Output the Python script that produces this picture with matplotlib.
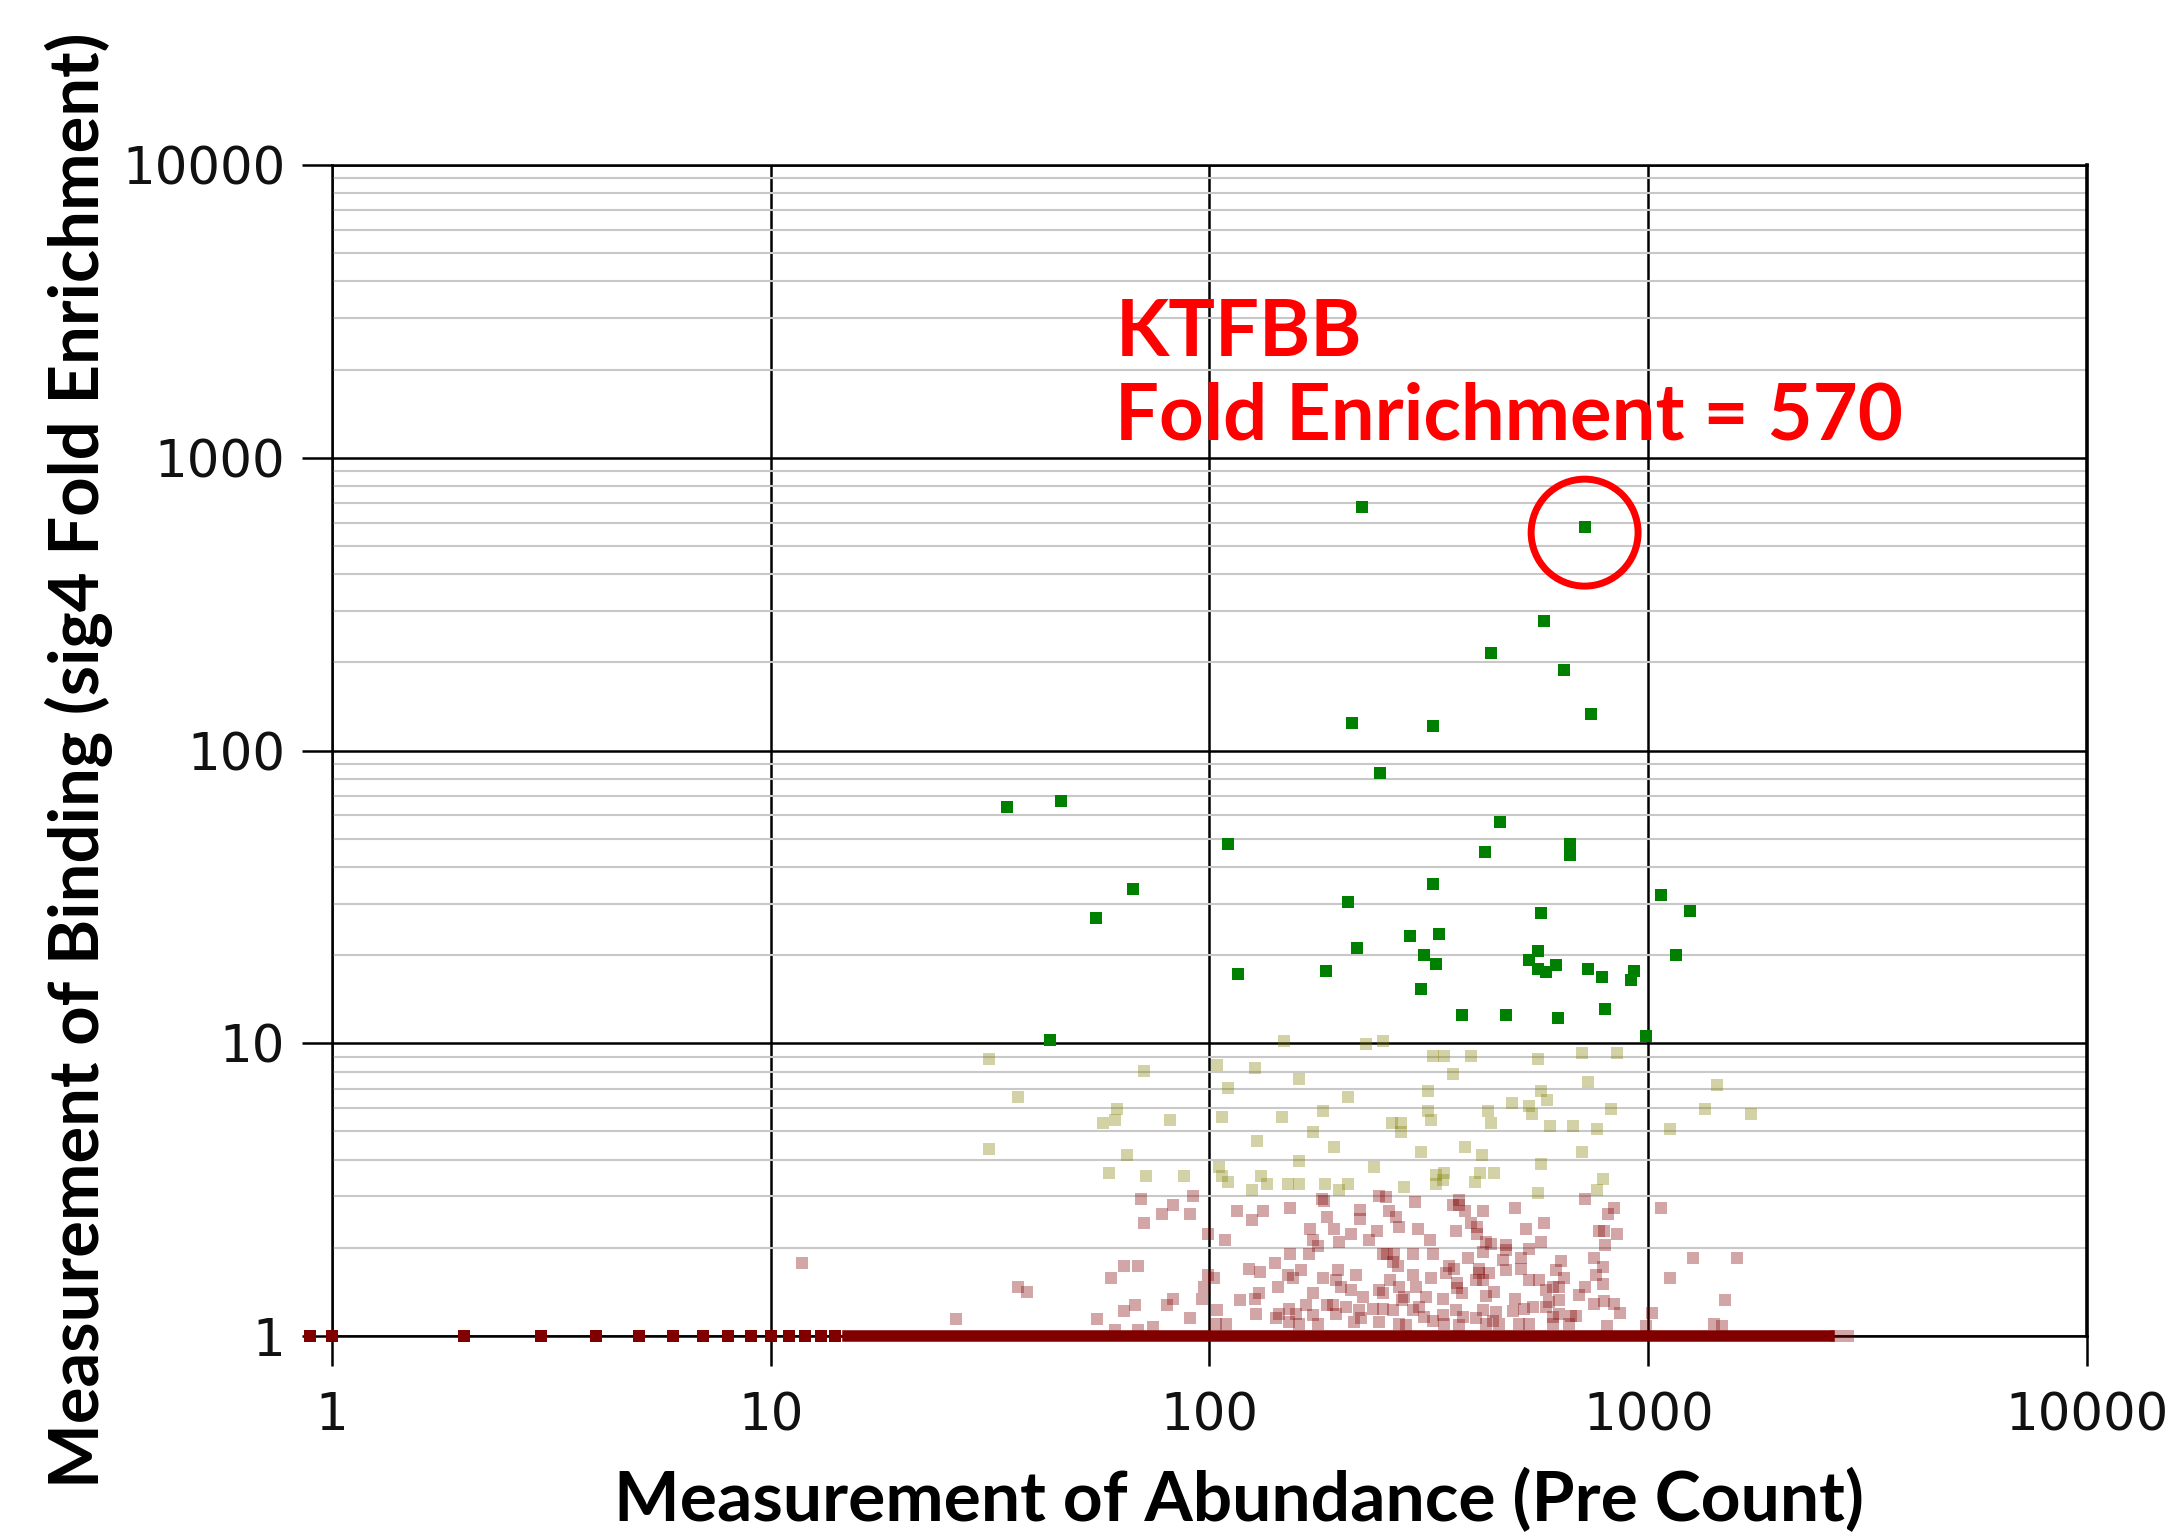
import numpy as np
import matplotlib
matplotlib.use('Agg')
import matplotlib.pyplot as plt
from matplotlib.ticker import FixedLocator, LogLocator, NullFormatter, NullLocator

# Binding (fold enrichment) vs abundance (pre count), one point per sequence.

# strong binders, fold enrichment > 10 (green)
green_x = [223, 718, 579, 439, 644, 741, 211, 324, 245, 34.5,
           46, 460, 110, 425, 664, 664, 67, 324, 55, 207,
           1071, 1248, 570, 286, 333, 217, 309, 329, 561, 535,
           561, 586, 617, 730, 786, 929, 915, 1158, 116, 184,
           304, 377, 475, 624, 798, 989, 43.4]
green_y = [680, 581, 278, 216, 188, 133, 124, 121, 84, 64,
           67, 57, 48, 45, 48, 44, 33.6, 35, 26.7, 30.5,
           32, 28.4, 27.8, 23.2, 23.7, 21.1, 20.1, 18.7, 20.6, 19.2,
           18.0, 17.5, 18.5, 18.0, 16.8, 17.6, 16.4, 20.1, 17.2, 17.6,
           15.3, 12.5, 12.5, 12.2, 13.1, 10.6, 10.3]

# medium, fold enrichment 3 - 10 (olive)
olive_x = [31.4, 70.8, 36.6, 61.7, 57.1, 60.8, 81.2, 31.4, 64.7, 58.9, 71.8, 87.7,
           147.6, 227, 249, 104, 127, 160, 110, 207, 314, 324,
           107, 146, 181, 314, 319, 261, 273, 273, 172, 128,
           192, 160, 304, 105, 107, 110, 131, 135, 151, 160,
           183, 207, 125, 197, 237, 277, 329, 329,
           343, 395, 561, 707, 850, 359, 730, 1435, 570, 589,
           490, 535, 544, 432, 439, 824, 1349, 1718, 598, 675,
           763, 1118, 383, 419, 707, 570, 343, 413, 446, 402,
           787, 764, 561, 340]
olive_y = [8.84, 8.07, 6.56, 5.98, 5.35, 5.47, 5.47, 4.34, 4.14, 3.61, 3.52, 3.52,
           10.2, 9.95, 10.2, 8.43, 8.26, 7.55, 7.03, 6.56, 6.87, 9.05,
           5.6, 5.6, 5.85, 5.85, 5.47, 5.35, 5.35, 4.98, 4.98, 4.64,
           4.44, 3.96, 4.24, 3.78, 3.52, 3.36, 3.52, 3.30, 3.30, 3.30,
           3.30, 3.30, 3.15, 3.15, 3.78, 3.22, 3.56, 3.30,
           9.05, 9.05, 8.84, 9.26, 9.26, 7.88, 7.38, 7.19, 6.87, 6.40,
           6.25, 6.12, 5.72, 5.85, 5.35, 5.98, 5.98, 5.72, 5.22, 5.22,
           5.10, 5.10, 4.44, 4.14, 4.24, 3.87, 3.61, 3.61, 3.61, 3.36,
           3.44, 3.15, 3.08, 3.40]

# weak, fold enrichment 1 - 3 (dark red, transparent)
red_x = [11.8, 26.5, 36.6, 38.3, 55.4, 59.8, 63.7, 68.7, 63.7, 67.6,
         60.8, 68.7, 74.2, 80.2, 82.6, 69.7, 77.8, 82.6, 70.8,
         91.9, 180.5, 182.5, 243.8, 252.5, 294.0, 90.5, 115.5, 124.9, 132.7,
         152.3, 185.7, 220.5, 220.5, 257.0, 266.0, 270.7, 192.4, 169.7, 210.5,
         240.8, 230.5, 298.7, 318.6, 99.1, 108.7, 172.0, 177.1, 197.6, 168.9,
         152.3, 141.1, 122.9, 130.6, 248.2, 254.3, 263.4, 261.5, 268.6, 290.4,
         322.5, 99.1, 102.2, 97.0, 150.7, 154.8, 161.3, 143.3, 181.0, 195.8,
         194.2, 199.8, 215.3, 210.5, 223.4, 243.3, 248.2, 257.6, 270.7, 290.4,
         295.5, 311.0, 320.5, 96.3, 117.2, 126.8, 129.9, 172.0, 185.0, 190.9,
         165.9, 152.1, 157.5, 144.3, 103.9, 127.7, 90.5, 171.8, 194.2, 204.7,
         219.5, 221.1, 235.4, 248.2, 243.8, 261.5, 274.1, 277.8, 290.4, 300.7,
         308.6, 322.5, 109.1, 103.5, 141.9, 152.1, 160.2, 176.4, 213.8, 270.7, 280.0,
         370.9, 359.6, 370.9, 382.9, 419.3, 495.7, 718.9, 836.5, 809.6, 1069,
         395.2, 406.4, 365.2, 527.1, 578.5, 773, 794.5, 848.3, 407.0, 426.7,
         438.0, 473.8, 473.8, 535.5, 569.7, 797.2, 388.9, 419.3, 467.4, 513.5,
         352, 361.5, 346, 412.2, 412.2, 434.2, 473.8, 512.6, 633.4, 616.2,
         751.2, 789.1, 759.9, 643.5, 786.5, 367.1, 367.1, 419.3, 405.0, 535.5,
         564.8, 584.6, 626.9, 605.4, 717.7, 696.7, 445.8, 426.7, 376.1, 340,
         495.7, 595.2, 626.9, 751.2, 794.5, 836.5, 862.7, 365.2, 419.3, 449.8,
         490.7, 519.8, 545.1, 584.6, 340, 377.5, 405.0, 441.9, 605.4, 626.9,
         666.5, 684.5, 343, 370.9, 426.7, 457.7, 508.2, 535.5, 605.4, 660.8,
         806.9, 987.8, 1020, 1122, 1266,
         1592, 1497, 1409, 1473, 2680, 2855]
red_y = [1.77, 1.146, 1.47, 1.41, 1.146, 1.58, 1.73, 1.73, 1.22, 1.28,
         1.05, 1.05, 1.07, 1.28, 1.34, 2.94, 2.61, 2.81, 2.44,
         3.01, 2.95, 2.90, 3.00, 2.98, 2.88, 2.61, 2.68, 2.50, 2.68,
         2.74, 2.55, 2.69, 2.52, 2.68, 2.55, 2.36, 2.33, 2.33, 2.24,
         2.28, 2.13, 2.33, 2.13, 2.24, 2.13, 2.13, 2.03, 2.09, 1.91,
         1.90, 1.77, 1.69, 1.65, 1.91, 1.90, 1.91, 1.79, 1.73, 1.90,
         1.90, 1.62, 1.58, 1.47, 1.62, 1.58, 1.68, 1.47, 1.58, 1.68,
         1.55, 1.47, 1.62, 1.44, 1.36, 1.44, 1.40, 1.55, 1.47, 1.62,
         1.47, 1.36, 1.58, 1.34, 1.33, 1.34, 1.40, 1.40, 1.28, 1.28,
         1.28, 1.24, 1.19, 1.19, 1.23, 1.19, 1.15, 1.18, 1.19, 1.26,
         1.23, 1.15, 1.24, 1.24, 1.12, 1.23, 1.33, 1.36, 1.23, 1.26,
         1.16, 1.13, 1.10, 1.10, 1.15, 1.12, 1.10, 1.10, 1.12, 1.10, 1.09,
         2.91, 2.80, 2.80, 2.68, 2.68, 2.74, 2.93, 2.74, 2.61, 2.74,
         2.43, 2.36, 2.28, 2.33, 2.44, 2.28, 2.28, 2.24, 2.24, 2.10,
         2.07, 2.04, 1.97, 1.99, 2.10, 2.04, 1.85, 1.94, 1.82, 1.85,
         1.73, 1.70, 1.64, 1.70, 1.64, 1.64, 1.68, 1.70, 1.81, 1.68,
         1.85, 1.72, 1.62, 1.58, 1.51, 1.52, 1.46, 1.55, 1.55, 1.55,
         1.55, 1.44, 1.47, 1.47, 1.47, 1.38, 1.41, 1.37, 1.40, 1.34,
         1.34, 1.31, 1.33, 1.29, 1.32, 1.29, 1.20, 1.23, 1.23, 1.21,
         1.22, 1.24, 1.26, 1.26, 1.18, 1.16, 1.15, 1.13, 1.16, 1.19,
         1.17, 1.17, 1.10, 1.09, 1.10, 1.10, 1.10, 1.10, 1.10, 1.10,
         1.08, 1.08, 1.20, 1.58, 1.85,
         1.85, 1.33, 1.10, 1.08, 1.0, 1.0]

# no enrichment (fold enrichment = 1): stacked single counts, then a solid run
flat_x = [0.89, 1, 2, 3, 4, 5, 6, 7, 8, 9, 10, 11, 12, 13, 14]
flat_run = [15, 2585]   # every count in this range is present at FE = 1
flat_y = 1

# highlighted sequence
hit_name = 'KTFBB'
hit_x, hit_y, hit_fe = 716, 555, 570

xticks = [1, 10, 100, 1000, 10000]
yticks = [1, 10, 100, 1000, 10000]
tick_labels = ['1', '10', '100', '1000', '10000']

dark_red = '#800000'
msize = 8.3 ** 2

fig = plt.figure(figsize=(21.65, 15.32), dpi=100)
ax = fig.add_axes([0.1533, 0.1279, 0.8107, 0.7644])
ax.set_xscale('log')
ax.set_yscale('log')
ax.set_xlim(1, 10000)
ax.set_ylim(1, 10000)

# data
ax.plot(flat_run, [flat_y, flat_y], color=dark_red, lw=8.3,
        solid_capstyle='projecting', zorder=3, clip_on=False)
ax.scatter(flat_x, [flat_y] * len(flat_x), s=msize, marker='s', color=dark_red,
           linewidths=0, zorder=3, clip_on=False)
ax.scatter(red_x, red_y, s=msize, marker='s', color=dark_red, alpha=0.35,
           linewidths=0, zorder=3, clip_on=False)
ax.scatter(olive_x, olive_y, s=msize, marker='s', color='#808000', alpha=0.35,
           linewidths=0, zorder=3)
ax.scatter(green_x, green_y, s=msize, marker='s', color='#008000',
           linewidths=0, zorder=4)

# circle round the hit
ax.scatter([hit_x], [hit_y], s=77 ** 2, marker='o', facecolors='none',
           edgecolors='#ff0000', linewidths=5, zorder=5)
ax.text(61, 2230, hit_name, color='#ff0000', fontsize=56, fontweight='bold',
        family='Lato', va='baseline', ha='left')
ax.text(61, 1152, 'Fold Enrichment = %d' % hit_fe, color='#ff0000', fontsize=56,
        fontweight='bold', family='Lato', va='baseline', ha='left')

# axes, ticks and grid
ax.xaxis.set_major_locator(FixedLocator(xticks))
ax.yaxis.set_major_locator(FixedLocator(yticks))
ax.set_xticklabels(tick_labels)
ax.set_yticklabels(tick_labels)
ax.xaxis.set_minor_locator(NullLocator())
ax.yaxis.set_minor_locator(LogLocator(base=10, subs=np.arange(2, 10)))
ax.yaxis.set_minor_formatter(NullFormatter())
ax.tick_params(which='major', length=21.6, width=1.8, color='black',
               labelsize=37, labelcolor='#111111')
ax.tick_params(axis='x', which='major', pad=18)
ax.tick_params(axis='y', which='major', pad=12)
ax.tick_params(which='minor', length=0)
ax.set_axisbelow(True)
ax.grid(which='major', color='black', lw=1.8)
ax.grid(which='minor', axis='y', color='#c8c8c8', lw=1.5)
for side in ['left', 'right', 'top', 'bottom']:
    ax.spines[side].set_color('black')
    ax.spines[side].set_linewidth(1.8)
ax.spines['right'].set_linewidth(2.6)

fig.text(0.5723, 0.0072, 'Measurement of Abundance (Pre Count)', fontsize=50,
         fontweight='bold', family='Lato', ha='center', va='baseline')
fig.text(0.0457, 0.504, 'Measurement of Binding (sig4 Fold Enrichment)',
         fontsize=49.5, fontweight='bold', family='Lato', rotation=90,
         rotation_mode='anchor', ha='center', va='baseline')

fig.savefig('out.png', dpi=100)
